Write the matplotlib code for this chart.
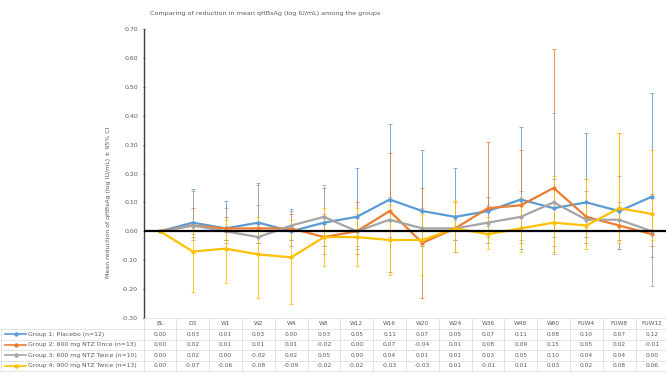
import matplotlib
matplotlib.use("Agg")
import matplotlib.pyplot as plt
import matplotlib.transforms as mtransforms
from matplotlib.lines import Line2D
import numpy as np

plt.rcParams['font.family'] = ['DejaVu Sans']

categories = ["BL", "D3", "W1", "W2", "W4", "W8", "W12", "W16", "W20", "W24",
              "W36", "W48", "W60", "FUW4", "FUW8", "FUW12"]

group_names = ["Group 1: Placebo (n=12)",
               "Group 2: 600 mg NTZ Once (n=13)",
               "Group 3: 600 mg NTZ Twice (n=10)",
               "Group 4: 900 mg NTZ Twice (n=13)"]

g1 = [0.00, 0.03, 0.01, 0.03, 0.00, 0.03, 0.05, 0.11, 0.07, 0.05, 0.07, 0.11, 0.08, 0.10, 0.07, 0.12]
g2 = [0.00, 0.02, 0.01, 0.01, 0.01, -0.02, 0.00, 0.07, -0.04, 0.01, 0.08, 0.09, 0.15, 0.05, 0.02, -0.01]
g3 = [0.00, 0.02, 0.00, -0.02, 0.02, 0.05, 0.00, 0.04, 0.01, 0.01, 0.03, 0.05, 0.10, 0.04, 0.04, 0.00]
g4 = [0.00, -0.07, -0.06, -0.08, -0.09, -0.02, -0.02, -0.03, -0.03, 0.01, -0.01, 0.01, 0.03, 0.02, 0.08, 0.06]

# 95% CI bounds
lo1 = [0.00, -0.02, -0.03, -0.04, -0.05, -0.05, -0.06, -0.03, -0.05, -0.07, 0.02, -0.06, -0.02, -0.02, -0.06, -0.09]
hi1 = [0.00, 0.146, 0.105, 0.167, 0.077, 0.15, 0.22, 0.37, 0.28, 0.22, 0.12, 0.36, 0.18, 0.34, 0.19, 0.48]
lo2 = [0.00, -0.01, -0.03, -0.04, -0.03, -0.08, -0.08, -0.14, -0.23, -0.03, -0.04, -0.04, -0.05, -0.04, -0.03, -0.05]
hi2 = [0.00, 0.08, 0.05, 0.09, 0.06, 0.06, 0.10, 0.27, 0.15, 0.10, 0.31, 0.28, 0.63, 0.18, 0.34, 0.13]
lo3 = [0.00, -0.03, -0.04, -0.04, -0.03, -0.05, -0.05, -0.02, -0.05, -0.03, -0.02, -0.03, -0.08, -0.02, -0.06, -0.19]
hi3 = [0.00, 0.14, 0.08, 0.16, 0.07, 0.16, 0.06, 0.12, 0.08, 0.04, 0.09, 0.14, 0.41, 0.14, 0.10, 0.06]
lo4 = [0.00, -0.21, -0.18, -0.23, -0.25, -0.12, -0.12, -0.15, -0.15, -0.07, -0.06, -0.07, -0.07, -0.06, -0.04, -0.03]
hi4 = [0.00, 0.02, 0.04, 0.05, 0.04, 0.08, 0.08, 0.09, 0.06, 0.11, 0.05, 0.12, 0.19, 0.18, 0.34, 0.28]

series = [g1, g2, g3, g4]
lows = [lo1, lo2, lo3, lo4]
highs = [hi1, hi2, hi3, hi4]
colors = ["#5B9BD5", "#ED7D31", "#A5A5A5", "#FFC000"]

W, H = 666, 377
fig = plt.figure(figsize=(W / 100, H / 100), dpi=100)

ax_left = 143.6 / W
ax_w = 524.8 / W
ax_bottom = (H - 318) / H
ax_top = (H - 29) / H
ax = fig.add_axes([ax_left, ax_bottom, ax_w, ax_top - ax_bottom])

x = np.arange(len(categories))
for vals, lo, hi, c in zip(series, lows, highs, colors):
    v = np.array(vals)
    yerr = np.vstack([v - np.array(lo), np.array(hi) - v])
    yerr = np.clip(yerr, 0, None)
    ax.errorbar(x, v, yerr=yerr, fmt='none', ecolor=c, elinewidth=0.7,
                capsize=1.5, capthick=0.6, alpha=0.85, zorder=2)
for vals, c in zip(series, colors):
    ax.plot(x, vals, color=c, linewidth=1.6, marker='o', markersize=2,
            zorder=3)

ax.axhline(0, color='black', linewidth=1.6, zorder=4)

ax.set_xlim(-0.5, len(categories) - 0.5)
ax.set_ylim(-0.30, 0.70)
ticks = np.arange(-0.30, 0.701, 0.10)
ax.set_yticks(ticks)
ax.set_yticklabels([f"{v:.2f}" for v in ticks], fontsize=4.5, color='#595959')
ax.tick_params(axis='y', length=2, width=0.6, color='#404040', direction='inout', pad=3)
ax.set_xticks([])
for s in ['top', 'right', 'bottom']:
    ax.spines[s].set_visible(False)
ax.spines['left'].set_color('#404040')
ax.spines['left'].set_linewidth(1.0)

ax.set_ylabel("Mean reduction of qHBsAg (log IU/mL) \u00b1 95% CI", fontsize=4.5,
              color='#595959')
ax.yaxis.set_label_coords(-0.062, 0.4)

fig.text(265 / W, 1 - 14 / H, "Comparing of reduction in mean qHBsAg (log IU/mL) among the groups",
         ha='center', va='center', fontsize=4.6, color='#595959')

# Data table
trans = mtransforms.blended_transform_factory(ax.transData, fig.transFigure)
grid_c = '#D9D9D9'
row_edges_px = [318, 329, 339.5, 350, 360.5, 371]
def fy(px):
    return 1 - px / H

for i, yp in enumerate(row_edges_px):
    x0 = 0.0 if i >= 1 else ax_left
    fig.add_artist(Line2D([x0, 1.0], [fy(yp), fy(yp)], transform=fig.transFigure,
                          color=grid_c, linewidth=0.5))
for k in range(len(categories) + 1):
    xv = k - 0.5
    fig.add_artist(Line2D([xv, xv], [fy(row_edges_px[0]), fy(row_edges_px[-1])],
                          transform=trans, color=grid_c, linewidth=0.5))
fig.add_artist(Line2D([0.0015, 0.0015], [fy(row_edges_px[1]), fy(row_edges_px[-1])],
                      transform=fig.transFigure, color=grid_c, linewidth=0.5))

hy = fy((row_edges_px[0] + row_edges_px[1]) / 2)
for k, cat in enumerate(categories):
    fig.text(k, hy, cat, transform=trans, ha='center', va='center',
             fontsize=4.2, color='#595959')

for r, (name, vals, c) in enumerate(zip(group_names, series, colors)):
    yc = fy((row_edges_px[r + 1] + row_edges_px[r + 2]) / 2)
    fig.add_artist(Line2D([5 / W, 26 / W], [yc, yc], transform=fig.transFigure,
                          color=c, linewidth=1.2))
    fig.add_artist(Line2D([15.5 / W], [yc], transform=fig.transFigure,
                          color=c, marker='o', markersize=2.2))
    fig.text(28 / W, yc, name, ha='left', va='center', fontsize=4.4, color='#595959')
    for k, v in enumerate(vals):
        fig.text(k, yc, f"{v:.2f}", transform=trans, ha='center', va='center',
                 fontsize=4.2, color='#595959')

fig.savefig("out.png", dpi=100)
